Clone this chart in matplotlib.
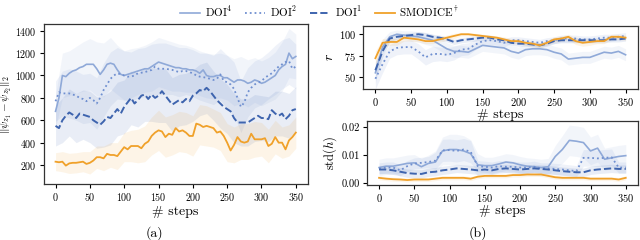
import numpy as np
import matplotlib
matplotlib.use('Agg')
import matplotlib.pyplot as plt

plt.rcParams['font.family'] = ['cmr10', 'DejaVu Serif']
plt.rcParams['mathtext.fontset'] = 'cm'
plt.rcParams['axes.formatter.use_mathtext'] = True

# ---------------- data ----------------
steps_a = np.arange(0, 355, 5)
steps = np.arange(0, 360, 10)

dist_doi4 = [680, 800, 1000, 990, 1020, 1040, 1050, 1070, 1080, 1100, 1100, 1100, 1060, 1010, 1050, 1100,
             1110, 1100, 1050, 1010, 1000, 1010, 1020, 1030, 1040, 1050, 1060, 1060, 1080, 1100, 1120, 1110,
             1100, 1090, 1080, 1070, 1070, 1060, 1060, 1050, 1050, 1040, 1020, 1050, 1000, 990, 990, 1000,
             1000, 980, 980, 960, 940, 960, 960, 950, 930, 940, 960, 950, 930, 940, 960, 980, 1000, 1050,
             1080, 1100, 1200, 1150, 1170]
dist_doi2 = [770, 850, 840, 840, 840, 830, 820, 800, 790, 770, 800, 780, 750, 800, 870, 920, 970, 1000,
             1020, 1010, 1000, 990, 990, 1000, 1020, 1025, 1030, 1040, 1050, 1080, 1060, 1060, 1060, 1055,
             1050, 1040, 1030, 1040, 1040, 1030, 1020, 1000, 990, 985, 980, 970, 960, 970, 1010, 950, 940,
             920, 880, 800, 720, 760, 850, 890, 920, 935, 950, 980, 1000, 1020, 1050, 1080, 1100, 1120,
             1130, 1060, 1080]
dist_doi1 = [550, 530, 600, 640, 670, 650, 620, 660, 650, 640, 630, 600, 580, 560, 590, 630, 620, 660,
             700, 660, 720, 760, 800, 750, 780, 820, 830, 790, 830, 800, 820, 860, 820, 780, 740, 760, 780,
             760, 790, 770, 820, 840, 870, 860, 890, 860, 820, 780, 750, 720, 700, 680, 620, 580, 580, 580,
             580, 600, 620, 640, 620, 620, 610, 690, 660, 640, 660, 610, 640, 690, 700]
dist_smodice = [230, 225, 230, 195, 215, 220, 220, 225, 230, 210, 220, 240, 270, 270, 260, 300, 290, 290,
                280, 320, 360, 340, 370, 370, 370, 350, 390, 410, 460, 490, 510, 500, 450, 480, 470, 530,
                500, 510, 490, 460, 460, 570, 560, 540, 550, 540, 530, 490, 500, 460, 400, 330, 380, 450,
                410, 400, 410, 480, 430, 430, 430, 440, 370, 390, 450, 400, 400, 340, 420, 450, 490]

dist_doi4_sd = [150, 200, 200, 210, 220, 230, 240, 240, 230, 220, 220, 220, 210, 210, 220, 220, 220, 220,
                210, 210, 200, 200, 200, 200, 200, 200, 210, 210, 210, 200, 200, 200, 210, 220, 220, 200]
dist_doi2_sd = [180, 200, 220, 220, 220, 220, 230, 240, 240, 230, 220, 220, 220, 220, 230, 230, 230, 220,
                220, 210, 210, 210, 220, 220, 230, 240, 240, 230, 220, 210, 210, 210, 220, 220, 210, 200]
dist_doi1_sd = [180, 200, 210, 220, 220, 230, 230, 230, 240, 240, 240, 240, 240, 240, 240, 240, 240, 240,
                230, 230, 230, 230, 230, 220, 220, 220, 220, 210, 210, 210, 200, 200, 200, 200, 200, 200]
dist_smodice_sd = [80, 90, 90, 90, 90, 100, 100, 110, 110, 120, 130, 140, 150, 160, 170, 180, 180, 180,
                   180, 180, 180, 180, 180, 170, 170, 170, 160, 160, 160, 160, 150, 150, 150, 140, 140, 140]

r_doi4 = [55, 85, 97, 100, 99, 98, 97, 95, 93, 88, 83, 80, 80, 79, 83, 87, 86, 85, 84, 80, 78, 82, 83, 83,
          82, 79, 77, 71, 72, 73, 73, 76, 79, 78, 80, 76]
r_doi2 = [48, 65, 80, 84, 85, 85, 80, 73, 77, 77, 76, 78, 82, 83, 88, 92, 93, 92, 90, 93, 93, 92, 91, 90,
          92, 93, 95, 95, 95, 94, 94, 95, 96, 96, 97, 98]
r_doi1 = [58, 80, 95, 97, 98, 99, 100, 99, 97, 96, 94, 91, 93, 94, 95, 96, 96, 94, 93, 90, 89, 89, 88, 87,
          89, 92, 93, 93, 93, 93, 93, 93, 93, 94, 94, 95]
r_smodice = [72, 90, 91, 91, 96, 95, 94, 92, 92, 94, 96, 98, 100, 100, 99, 98, 97, 96, 94, 92, 92, 90, 89,
             87, 90, 94, 95, 97, 92, 90, 91, 92, 92, 97, 97, 96]
r_doi4_sd = [12, 9, 6, 5, 5, 6, 6, 7, 7, 7, 7, 7, 7, 7, 7, 7, 7, 7, 7, 7, 7, 7, 7, 7, 7, 7, 7, 7, 7, 7, 7,
             7, 7, 7, 7, 7]
r_doi2_sd = [12, 10, 8, 8, 8, 8, 9, 9, 9, 8, 8, 8, 7, 7, 6, 5, 5, 5, 5, 4, 4, 4, 4, 4, 4, 4, 4, 4, 4, 4, 4,
             4, 4, 4, 4, 4]
r_doi1_sd = [10, 7, 4, 3, 3, 3, 3, 3, 3, 3, 3, 3, 3, 3, 3, 3, 3, 3, 3, 3, 3, 3, 3, 3, 3, 3, 3, 3, 3, 3, 3,
             3, 3, 3, 3, 3]
r_smodice_sd = [8, 5, 4, 4, 4, 3, 3, 3, 3, 3, 3, 3, 2, 2, 2, 2, 2, 2, 3, 3, 3, 3, 3, 3, 3, 3, 3, 3, 4, 4,
                4, 3, 3, 3, 3, 3]

std_doi4 = [.0055, .006, .006, .0065, .007, .0072, .0058, .007, .0075, .0115, .012, .012, .0115, .0105,
            .0065, .0062, .0062, .0068, .0075, .0072, .0065, .006, .0058, .0055, .0058, .0095, .012, .0153,
            .015, .0145, .0115, .0125, .0085, .009, .0095, .0098]
std_doi2 = [.0052, .0055, .0055, .0045, .006, .007, .0072, .0075, .008, .0117, .0118, .0115, .012, .0112,
            .006, .0058, .0055, .006, .0058, .0058, .0055, .0055, .0058, .0052, .0052, .005, .0048, .0045,
            .0042, .009, .009, .0088, .009, .0092, .0055, .0055]
std_doi1 = [.0048, .0048, .0045, .004, .0035, .0033, .0032, .0038, .004, .0045, .0048, .0052, .005, .0048,
            .0045, .0048, .0045, .005, .0052, .005, .0048, .005, .0052, .005, .0048, .0045, .0042, .004,
            .0038, .0038, .0045, .0048, .005, .0052, .005, .005]
std_smodice = [.0018, .0015, .0013, .0012, .001, .0012, .0012, .0012, .0015, .0018, .0018, .0018, .0018,
               .0015, .0022, .0025, .0025, .0025, .0025, .0028, .0028, .003, .003, .003, .0025, .002, .0018,
               .0018, .0018, .0018, .0015, .0015, .0015, .0015, .0012, .0018]
std_doi4_sd = [.003, .003, .003, .003, .003, .003, .003, .003, .004, .005, .0055, .0055, .0055, .005, .004,
               .003, .003, .003, .003, .003, .003, .003, .003, .003, .003, .004, .005, .0055, .0055, .0055,
               .005, .005, .004, .004, .004, .004]
std_doi2_sd = [.002, .002, .002, .002, .002, .002, .002, .002, .003, .004, .004, .004, .004, .004, .002,
               .002, .002, .002, .002, .002, .002, .002, .002, .002, .002, .002, .002, .002, .002, .003,
               .003, .003, .003, .003, .002, .002]
std_doi1_sd = [.0015] * 36
std_smodice_sd = [.0007] * 36

labels = [r'DOI$^4$', r'DOI$^2$', r'DOI$^1$', r'SMODICE$^\dagger$']
colors = ['#8fa9d8', '#6f8fd0', '#3e64ae', '#f0a12a']
styles = ['-', ':', '--', '-']
widths = [1.2, 1.3, 1.4, 1.3]


def style_ax(ax, size=7.5):
    for s in ax.spines.values():
        s.set_color('#333333')
        s.set_linewidth(0.9)
    ax.tick_params(labelsize=size, length=3, width=0.8, pad=2)
    ax.set_xlim(-17.5, 367.5)
    ax.set_xticks(range(0, 351, 50))


fig = plt.figure(figsize=(6.4, 2.4), dpi=100)
ax_a = fig.add_axes([0.068, 0.233, 0.413, 0.667])
ax_r = fig.add_axes([0.567, 0.629, 0.430, 0.264])
ax_s = fig.add_axes([0.573, 0.229, 0.424, 0.267])

# panel (a)
series_a = [dist_doi4, dist_doi2, dist_doi1, dist_smodice]
sd_a = [dist_doi4_sd, dist_doi2_sd, dist_doi1_sd, dist_smodice_sd]
for y, sd, c, ls, lw, lab in zip(series_a, sd_a, colors, styles, widths, labels):
    ymid = np.array(y)[::2]
    ax_a.fill_between(steps, ymid - np.array(sd), ymid + np.array(sd), color=c, alpha=0.11, lw=0)
    ax_a.plot(steps_a, y, color=c, ls=ls, lw=lw, label=lab)
ax_a.set_ylim(30, 1460)
ax_a.set_yticks(range(200, 1401, 200))
ax_a.set_xlabel('# steps', fontsize=10, labelpad=2)
ax_a.set_ylabel(r'$\|\psi_{z_1} - \psi_{z_2}\|_2$', fontsize=8)
ax_a.yaxis.set_label_coords(-0.11, 0.5)
style_ax(ax_a, 7.2)

# panel (b) top
series_r = [r_doi4, r_doi2, r_doi1, r_smodice]
sd_r = [r_doi4_sd, r_doi2_sd, r_doi1_sd, r_smodice_sd]
for y, sd, c, ls, lw in zip(series_r, sd_r, colors, styles, widths):
    y = np.array(y)
    ax_r.fill_between(steps, y - np.array(sd), y + np.array(sd), color=c, alpha=0.11, lw=0)
    ax_r.plot(steps, y, color=c, ls=ls, lw=lw)
ax_r.set_ylim(36, 110)
ax_r.set_yticks([50, 75, 100])
ax_r.set_xlabel('# steps', fontsize=10, labelpad=1)
ax_r.set_ylabel(r'$r$', fontsize=10, labelpad=2)
style_ax(ax_r)

# panel (b) bottom
series_s = [std_doi4, std_doi2, std_doi1, std_smodice]
sd_s = [std_doi4_sd, std_doi2_sd, std_doi1_sd, std_smodice_sd]
for y, sd, c, ls, lw in zip(series_s, sd_s, colors, styles, widths):
    y = np.array(y)
    ax_s.fill_between(steps, np.clip(y - np.array(sd), 0, None), y + np.array(sd), color=c, alpha=0.11, lw=0)
    ax_s.plot(steps, y, color=c, ls=ls, lw=lw)
ax_s.set_ylim(-0.0008, 0.0223)
ax_s.set_yticks([0.0, 0.01, 0.02])
ax_s.set_yticklabels(['0.00', '0.01', '0.02'])
ax_s.set_xlabel('# steps', fontsize=10, labelpad=1)
ax_s.set_ylabel(r'$\mathrm{std}(h)$', fontsize=9, labelpad=2)
style_ax(ax_s)

fig.legend(*ax_a.get_legend_handles_labels(), loc='center', bbox_to_anchor=(0.5, 0.95), ncol=4,
           frameon=False, fontsize=8, handlelength=1.8, columnspacing=1.2, handletextpad=0.4)
fig.text(0.242, 0.03, '(a)', ha='center', va='center', fontsize=10)
fig.text(0.747, 0.03, '(b)', ha='center', va='center', fontsize=10)

fig.savefig('out.png', dpi=100)
